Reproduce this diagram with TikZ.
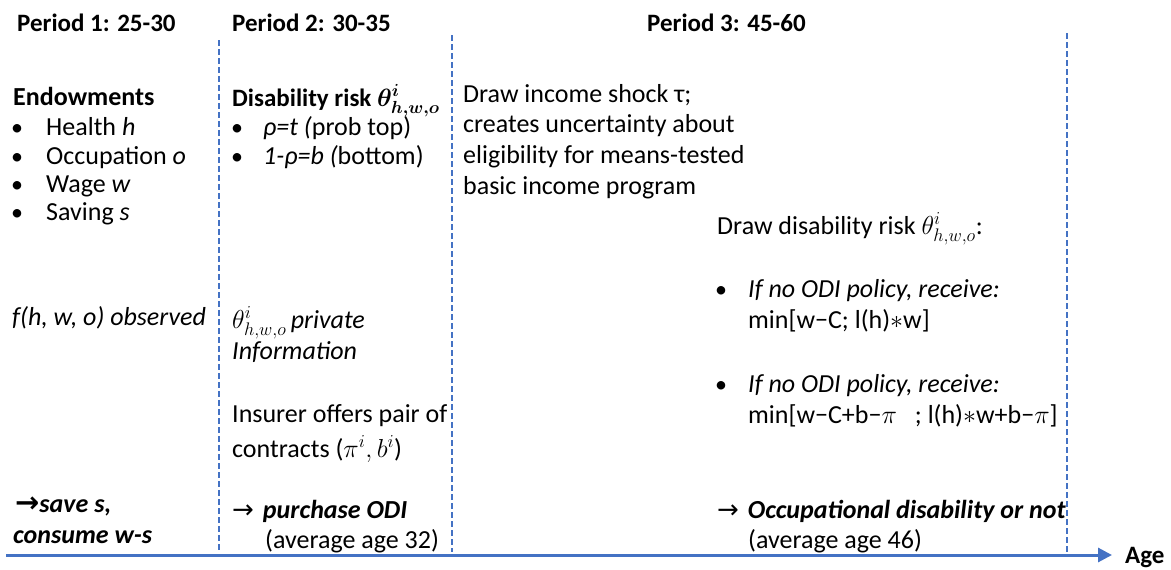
\RequirePackage{fix-cm}
\documentclass[tikz,border=0pt]{standalone}
\usepackage{amsmath}
\usepackage{fontspec}
\setmainfont{Carlito}
\newfontfamily\symf{DejaVu Sans}
\usetikzlibrary{arrows.meta}
\definecolor{axisblue}{HTML}{4472C4}
\tikzset{
  txt/.style={anchor=base west, inner sep=0pt, font=\fontsize{26}{30}\selectfont},
  hd/.style={txt, font=\bfseries\fontsize{25}{30}\selectfont},
  bhd/.style={txt, font=\bfseries\fontsize{26}{30}\selectfont},
  bul/.style={anchor=base, inner sep=0pt, font=\fontsize{24}{30}\selectfont},
  vline/.style={draw=axisblue, line width=2pt, dash pattern=on 6pt off 3pt},
  axisline/.style={draw=axisblue, line width=3pt, -{Triangle[length=14pt,width=14pt]}}
}
\begin{document}
\begin{tikzpicture}[x=1pt,y=-1pt]
\useasboundingbox (0,0) rectangle (1171,570);
% headers
\node[hd] (h1) at (17,31) {Period 1: 25-30};
\node[hd] (h2) at (232,31) {Period 2: 30-35};
\node[hd] (h3) at (647,31) {Period 3: 45-60};
% dashed separators
\coordinate (v1t) at (219,40); \coordinate (v1b) at (219,552);
\coordinate (v2t) at (452,35); \coordinate (v2b) at (452,552);
\coordinate (v3t) at (1067,33); \coordinate (v3b) at (1067,553);
\draw[vline] (v1t) -- (v1b);
\draw[vline] (v2t) -- (v2b);
\draw[vline] (v3t) -- (v3b);
% column 1
\node[bhd] (endw) at (13,105) {Endowments};
\node[bul] (b11) at (17,135) {•};
\node[txt] (e1) at (46,135) {Health \textit{h}};
\node[bul] (b12) at (17,164) {•};
\node[txt] (e2) at (46,164) {Occupation \textit{o}};
\node[bul] (b13) at (17,192) {•};
\node[txt] (e3) at (46,192) {Wage \textit{w}};
\node[bul] (b14) at (17,220) {•};
\node[txt] (e4) at (46,220) {Saving \textit{s}};
\node[txt] (fobs) at (12,325) {\itshape f(h, w, o) observed};
\node[txt] (save1) at (15,512) {{\symf\bfseries\fontsize{29}{30}\selectfont →}\textbf{\textit{save s,}}};
\node[txt] (save2) at (13,543) {\textbf{\textit{consume w-s}}};
% column 2
\node[bhd, font=\bfseries\fontsize{25}{30}\selectfont] (drisk) at (232,106) {Disability risk $\boldsymbol{\theta^{i}_{h,w,o}}$};
\node[bul] (b21) at (237,135) {•};
\node[txt] (r1) at (263,135) {\textit{ρ=t (}prob top)};
\node[bul] (b22) at (237,164) {•};
\node[txt] (r2) at (263,164) {\textit{1-ρ=b (}bottom)};
\node[txt] (priv1) at (232,328) {$\theta^{i}_{h,w,o}$\,\textit{private}};
\node[txt] (priv2) at (232,359) {\itshape Information};
\node[txt] (ins1) at (232,422) {Insurer offers pair of};
\node[txt] (ins2) at (232,457) {contracts ($\pi^{i}, b^{i}$)};
\node[txt] (pur1) at (232,518) {{\symf →}\hspace{9pt}\textbf{\textit{purchase ODI}}};
\node[txt] (pur2) at (265,548) {(average age 32)};
% column 3
\node[txt] (sh1) at (463,102) {Draw income shock τ;};
\node[txt] (sh2) at (463,132) {creates uncertainty about};
\node[txt] (sh3) at (463,163) {eligibility for means-tested};
\node[txt] (sh4) at (463,194) {basic income program};
\node[txt] (dd) at (717,234) {Draw disability risk $\theta^{i}_{h,w,o}$:};
\node[bul] (b31) at (721,297) {•};
\node[txt] (p1) at (748,297) {\itshape If no ODI policy, receive:};
\node[txt] (m1) at (748,328) {min[w−C; l(h)$\ast$w]};
\node[bul] (b32) at (721,392) {•};
\node[txt] (p2) at (748,392) {\itshape If no ODI policy, receive:};
\node[txt] (m2) at (748,423) {min[w−C+b−$\pi$\hspace{18pt}; l(h)$\ast$w+b−$\pi$]};
\node[txt] (occ1) at (717,518) {{\symf →}\hspace{9pt}\textbf{\textit{Occupational disability or not}}};
\node[txt] (occ2) at (748,548) {(average age 46)};
% axis
\coordinate (ax0) at (6,555);
\coordinate (ax1) at (1112,555);
\draw[axisline] (ax0) -- (ax1);
\node[hd] (age) at (1125,563) {Age};
\end{tikzpicture}
\end{document}
